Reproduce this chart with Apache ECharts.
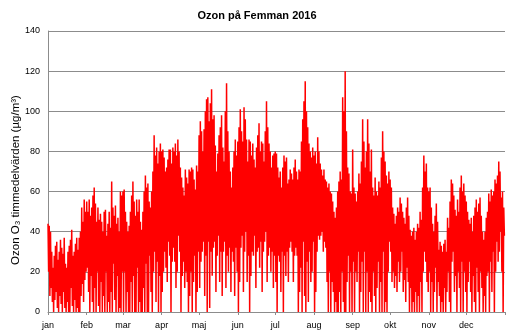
<!DOCTYPE html>
<html>
<head>
<meta charset="utf-8">
<script src="https://cdn.jsdelivr.net/npm/echarts@6/dist/echarts.min.js"></script>
<style>html,body{margin:0;padding:0;background:#fff}#c{width:514px;height:336px}</style>
</head>
<body>
<div id="c"></div>
<script>
const titleText = 'Ozon på Femman 2016';
const yAxisTitle = 'Ozon O₃ timmedelvärden (µg/m³)';
const months = ['jan','feb','mar','apr','maj','jun','jul','aug','sep','okt','nov','dec'];
const monthDays = [31,29,31,30,31,30,31,31,30,31,30,31];
const yTicks = [0,20,40,60,80,100,120,140];

// daily highest hourly value, Jan..Dec
const dailyMax = [
  44,43,40,30,22,28,33,35,26,30,36,32,29,37,24,22,30,33,36,41,28,30,34,37,31,37,40,52,45,56,50,
  55,50,56,48,52,58,62,54,45,52,46,49,45,40,50,51,38,44,50,42,65,52,48,53,44,47,40,60,58,
  60,61,50,45,40,43,50,58,65,55,48,56,50,56,45,41,50,60,68,62,64,55,52,60,70,88,78,82,74,80,84,
  80,81,77,70,72,76,81,81,74,82,80,84,78,86,80,72,67,62,58,71,67,64,71,70,72,71,66,61,73,70,
  88,95,90,80,91,100,106,107,95,104,111,96,98,83,70,79,88,92,98,82,75,100,114,90,80,70,62,72,80,86,78,
  85,92,101,90,85,102,96,86,75,86,85,78,84,76,72,82,88,94,80,85,84,75,90,105,92,84,80,72,78,79,
  80,79,72,67,70,62,72,78,75,77,64,66,71,69,66,72,76,70,66,71,70,85,96,105,115,100,92,84,80,77,82,
  78,80,74,87,80,74,71,68,71,66,65,62,64,60,59,55,50,47,52,60,65,70,66,107,100,120,90,72,69,60,59,
  81,62,59,55,60,69,64,75,96,85,72,80,96,84,70,81,62,58,67,60,58,65,62,77,90,80,75,68,64,70,
  66,62,52,49,44,48,52,50,57,54,50,47,44,52,57,48,41,38,40,42,36,40,44,42,50,46,62,78,70,74,62,
  60,62,52,44,40,48,54,45,31,35,33,30,34,36,30,47,42,55,66,64,58,51,48,56,50,62,68,60,64,58,
  55,50,46,44,47,40,48,52,56,50,54,57,48,40,36,40,47,50,59,55,61,58,60,66,64,68,75,70,57,60,52
];
// daily lowest hourly value, Jan..Dec
const dailyMin = [
  20,8,12,5,0,6,10,2,0,8,4,0,10,2,0,5,0,0,12,3,0,6,0,2,0,0,8,14,5,16,20,
  22,10,0,18,5,0,12,0,20,3,0,15,0,8,0,20,0,5,0,10,0,24,6,0,18,0,2,0,20,
  0,20,0,10,0,0,15,0,18,0,0,22,0,5,0,0,12,0,24,0,0,28,10,0,20,30,5,25,0,18,0,
  10,20,30,22,15,35,28,0,25,32,25,12,20,38,30,0,18,25,12,20,15,0,8,20,0,15,28,0,10,30,
  12,25,30,35,8,28,0,35,2,30,18,32,35,10,28,38,15,30,8,30,35,12,28,20,32,10,30,25,8,32,20,
  0,15,32,38,10,30,40,15,28,0,18,30,28,38,12,30,32,22,35,10,30,35,40,15,28,32,20,30,12,28,
  15,0,28,25,10,30,0,28,18,30,15,32,35,30,15,28,32,28,0,10,22,0,35,8,0,25,5,30,15,20,35,
  0,10,30,38,36,38,40,30,35,32,15,0,20,0,15,10,0,5,0,0,10,0,20,5,0,0,15,28,0,20,0,
  25,0,20,15,30,0,10,25,0,30,0,20,0,10,5,0,20,8,0,12,25,0,15,0,30,0,5,0,20,35,
  30,15,20,12,18,10,25,15,20,30,10,16,5,22,15,0,12,0,5,0,10,0,8,0,15,0,20,30,25,15,10,
  20,0,15,0,10,22,0,15,8,0,5,0,12,0,10,20,5,0,25,30,10,18,0,20,12,0,25,0,20,10,
  0,15,25,10,0,18,5,0,22,10,0,20,12,0,8,0,18,20,0,25,10,30,0,20,35,25,30,40,20,0,38
];

const nDays = monthDays.reduce((a, b) => a + b, 0);
const slots = 2 * nDays + 1;
const categories = [];
for (let i = 0; i < slots; i++) categories.push('s' + i);
const labelAt = {};
const tickAt = new Set();
let acc = 0;
months.forEach((m, k) => { labelAt[acc * 2] = m; tickAt.add(acc * 2); acc += monthDays[k]; });
tickAt.add(acc * 2);
const values = [];
for (let d = 0; d < nDays; d++) { values.push(dailyMax[d], dailyMin[d]); }

const font = 'Liberation Sans, Arial, sans-serif';
const chart = echarts.init(document.getElementById('c'), null, {renderer: 'canvas'});
chart.setOption({
  animation: false,
  backgroundColor: '#fff',
  title: {
    text: titleText, left: 'center', top: 5,
    textStyle: {fontFamily: font, fontSize: 11, fontWeight: 'bold', color: '#000'}
  },
  grid: {left: 48, right: 9, top: 31, bottom: 24, containLabel: false, outerBoundsMode: 'none'},
  xAxis: {
    type: 'category', data: categories, boundaryGap: false,
    axisLine: {show: true, lineStyle: {color: '#8c8c8c', width: 1}},
    axisTick: {show: true, length: 3, interval: (i) => tickAt.has(i), lineStyle: {color: '#8c8c8c'}},
    axisLabel: {
      interval: (i) => labelAt[i] !== undefined,
      formatter: (v, i) => labelAt[i] || '',
      fontFamily: font, fontSize: 9, color: '#000', margin: 9
    },
    splitLine: {show: false}
  },
  yAxis: {
    type: 'value', min: yTicks[0], max: yTicks[yTicks.length - 1], interval: yTicks[1] - yTicks[0],
    axisLine: {show: true, lineStyle: {color: '#8c8c8c', width: 1}},
    axisTick: {show: false},
    axisLabel: {fontFamily: font, fontSize: 9, color: '#000', margin: 8},
    splitLine: {show: true, lineStyle: {color: '#8c8c8c', width: 1}}
  },
  graphic: [{
    type: 'text', x: 16, y: 180, rotation: Math.PI / 2, silent: true,
    style: {text: yAxisTitle, align: 'center', verticalAlign: 'middle',
      fontFamily: font, fontSize: 11.5, fill: '#000'}
  }],
  series: [{
    type: 'line', data: values, showSymbol: false, symbol: 'none',
    lineStyle: {color: '#ff0000', width: 1.5}, itemStyle: {color: '#ff0000'},
    sampling: null, silent: true
  }]
});
</script>
</body>
</html>
